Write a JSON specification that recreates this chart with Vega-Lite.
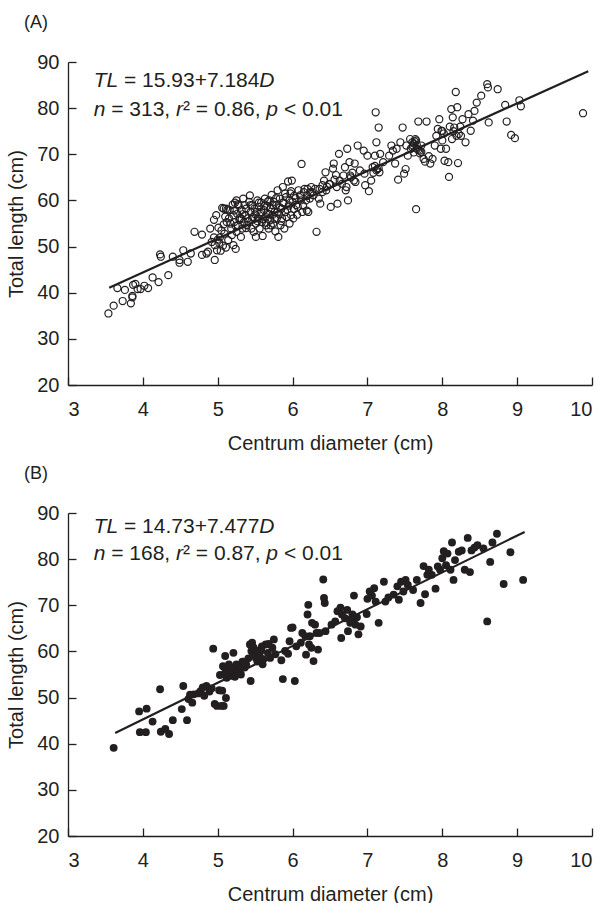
{
  "$schema": "https://vega.github.io/schema/vega-lite/v6.json",
  "padding": {"left": 6, "top": 14, "right": 5, "bottom": 2},
  "spacing": 12,
  "config": {
    "view": {"stroke": null},
    "font": "Liberation Sans",
    "axis": {
      "grid": false,
      "domainColor": "#231f20",
      "domainWidth": 1.3,
      "tickColor": "#231f20",
      "tickWidth": 1.3,
      "tickSize": -8,
      "labelFont": "Liberation Sans",
      "labelFontSize": 20,
      "labelColor": "#231f20",
      "titleFont": "Liberation Sans",
      "titleFontSize": 20,
      "titleFontWeight": "normal",
      "titleColor": "#231f20"
    },
    "axisX": {"labelPadding": 22, "titlePadding": 14},
    "axisY": {"labelPadding": 17, "titlePadding": 10},
    "title": {"font": "Liberation Sans", "fontSize": 18, "fontWeight": "normal", "color": "#231f20", "anchor": "start", "frame": "group", "dx": -44, "offset": 20}
  },
  "datasets": {
    "pa": [
      {"x":3.54,"y":35.5},{"x":3.61,"y":37.2},{"x":3.66,"y":41.0},{"x":3.73,"y":38.2},{"x":3.76,"y":40.6},{"x":3.84,"y":37.7},{"x":3.86,"y":39.0},{"x":3.86,"y":39.3},{"x":3.87,"y":41.7},{"x":3.90,"y":41.9},
      {"x":3.93,"y":40.8},{"x":3.97,"y":40.8},{"x":4.02,"y":41.5},{"x":4.07,"y":41.0},{"x":4.13,"y":43.3},{"x":4.21,"y":42.3},{"x":4.23,"y":48.3},{"x":4.24,"y":47.8},{"x":4.34,"y":43.8},{"x":4.40,"y":47.8},
      {"x":4.49,"y":46.5},{"x":4.49,"y":47.1},{"x":4.54,"y":49.2},{"x":4.60,"y":46.7},{"x":4.64,"y":48.5},{"x":4.69,"y":53.2},{"x":4.79,"y":48.2},{"x":4.79,"y":52.6},{"x":4.85,"y":48.5},{"x":4.87,"y":48.9},
      {"x":4.90,"y":53.9},{"x":4.92,"y":51.0},{"x":4.95,"y":55.8},{"x":4.96,"y":47.1},{"x":4.96,"y":50.3},{"x":4.98,"y":56.8},{"x":4.99,"y":49.2},{"x":5.01,"y":54.1},{"x":5.02,"y":50.8},{"x":5.04,"y":49.1},
      {"x":5.06,"y":58.4},{"x":5.07,"y":50.2},{"x":5.08,"y":58.2},{"x":5.09,"y":52.8},{"x":5.11,"y":58.2},{"x":5.12,"y":55.3},{"x":5.14,"y":51.4},{"x":5.15,"y":56.1},{"x":5.16,"y":57.9},{"x":5.18,"y":53.9},
      {"x":5.20,"y":59.1},{"x":5.21,"y":56.8},{"x":5.21,"y":50.3},{"x":5.22,"y":55.3},{"x":5.23,"y":59.5},{"x":5.24,"y":49.5},{"x":5.25,"y":60.0},{"x":5.25,"y":53.2},{"x":5.26,"y":57.1},{"x":5.27,"y":54.6},
      {"x":5.28,"y":58.9},{"x":5.30,"y":56.2},{"x":5.31,"y":52.1},{"x":5.32,"y":57.9},{"x":5.33,"y":53.9},{"x":5.34,"y":60.4},{"x":5.35,"y":55.3},{"x":5.37,"y":56.8},{"x":5.38,"y":58.2},{"x":5.39,"y":54.6},
      {"x":5.40,"y":56.1},{"x":5.42,"y":59.7},{"x":5.43,"y":61.1},{"x":5.44,"y":57.5},{"x":5.45,"y":53.9},{"x":5.46,"y":58.9},{"x":5.47,"y":56.4},{"x":5.48,"y":53.2},{"x":5.49,"y":58.2},{"x":5.51,"y":55.0},
      {"x":5.51,"y":52.1},{"x":5.52,"y":57.5},{"x":5.53,"y":60.0},{"x":5.54,"y":56.1},{"x":5.55,"y":58.6},{"x":5.56,"y":53.9},{"x":5.57,"y":57.1},{"x":5.58,"y":59.5},{"x":5.59,"y":55.3},{"x":5.60,"y":52.3},
      {"x":5.62,"y":57.9},{"x":5.63,"y":60.4},{"x":5.64,"y":56.4},{"x":5.65,"y":54.6},{"x":5.66,"y":58.8},{"x":5.67,"y":57.1},{"x":5.68,"y":53.9},{"x":5.69,"y":60.0},{"x":5.70,"y":55.7},{"x":5.71,"y":58.2},
      {"x":5.72,"y":61.2},{"x":5.73,"y":56.8},{"x":5.74,"y":55.0},{"x":5.75,"y":59.7},{"x":5.76,"y":57.5},{"x":5.77,"y":53.3},{"x":5.78,"y":58.9},{"x":5.79,"y":56.1},{"x":5.80,"y":62.2},{"x":5.81,"y":52.1},
      {"x":5.82,"y":57.1},{"x":5.83,"y":60.4},{"x":5.84,"y":54.6},{"x":5.85,"y":58.2},{"x":5.86,"y":56.1},{"x":5.87,"y":62.9},{"x":5.88,"y":59.5},{"x":5.89,"y":53.9},{"x":5.90,"y":57.5},{"x":5.91,"y":60.7},
      {"x":5.92,"y":56.4},{"x":5.94,"y":64.1},{"x":5.95,"y":58.9},{"x":5.96,"y":55.0},{"x":5.97,"y":61.5},{"x":5.98,"y":56.8},{"x":5.99,"y":64.3},{"x":6.00,"y":59.7},{"x":6.01,"y":56.1},{"x":6.02,"y":58.1},
      {"x":6.04,"y":60.5},{"x":6.06,"y":56.9},{"x":6.07,"y":58.6},{"x":6.10,"y":61.1},{"x":6.12,"y":67.9},{"x":6.13,"y":57.5},{"x":6.14,"y":58.9},{"x":6.15,"y":61.8},{"x":6.18,"y":60.0},{"x":6.19,"y":57.8},
      {"x":6.20,"y":62.5},{"x":6.21,"y":57.5},{"x":6.23,"y":60.4},{"x":6.24,"y":61.8},{"x":6.25,"y":62.9},{"x":6.28,"y":61.1},{"x":6.32,"y":53.2},{"x":6.35,"y":60.4},{"x":6.37,"y":59.3},{"x":6.40,"y":63.3},
      {"x":6.42,"y":64.3},{"x":6.44,"y":66.1},{"x":6.45,"y":62.2},{"x":6.49,"y":63.6},{"x":6.51,"y":58.6},{"x":6.54,"y":66.9},{"x":6.55,"y":68.0},{"x":6.59,"y":62.9},{"x":6.60,"y":59.3},{"x":6.62,"y":70.1},
      {"x":6.63,"y":64.3},{"x":6.66,"y":63.6},{"x":6.68,"y":65.4},{"x":6.70,"y":67.2},{"x":6.71,"y":62.2},{"x":6.72,"y":62.9},{"x":6.73,"y":71.2},{"x":6.74,"y":60.0},{"x":6.76,"y":68.3},{"x":6.77,"y":65.4},
      {"x":6.82,"y":64.3},{"x":6.83,"y":68.0},{"x":6.87,"y":71.9},{"x":6.95,"y":70.8},{"x":6.96,"y":65.8},{"x":6.97,"y":63.3},{"x":7.00,"y":69.7},{"x":7.02,"y":62.0},{"x":7.05,"y":64.3},{"x":7.07,"y":67.2},
      {"x":7.10,"y":69.7},{"x":7.11,"y":79.1},{"x":7.12,"y":72.6},{"x":7.13,"y":66.8},{"x":7.15,"y":75.8},{"x":7.16,"y":66.1},{"x":7.17,"y":70.1},{"x":7.21,"y":68.3},{"x":7.29,"y":69.7},{"x":7.32,"y":71.9},
      {"x":7.34,"y":70.8},{"x":7.37,"y":68.0},{"x":7.39,"y":71.2},{"x":7.41,"y":64.5},{"x":7.44,"y":72.6},{"x":7.47,"y":75.8},{"x":7.49,"y":65.8},{"x":7.51,"y":66.8},{"x":7.52,"y":71.9},{"x":7.54,"y":69.7},
      {"x":7.57,"y":73.3},{"x":7.58,"y":71.2},{"x":7.60,"y":72.6},{"x":7.61,"y":71.9},{"x":7.62,"y":70.4},{"x":7.64,"y":73.3},{"x":7.65,"y":58.1},{"x":7.66,"y":71.2},{"x":7.68,"y":77.1},{"x":7.70,"y":70.8},
      {"x":7.72,"y":71.9},{"x":7.75,"y":69.0},{"x":7.77,"y":68.4},{"x":7.79,"y":77.1},{"x":7.82,"y":69.6},{"x":7.84,"y":68.0},{"x":7.87,"y":69.0},{"x":7.90,"y":71.9},{"x":7.92,"y":74.0},{"x":7.94,"y":75.5},
      {"x":7.96,"y":77.6},{"x":7.98,"y":71.2},{"x":7.99,"y":75.1},{"x":8.00,"y":73.0},{"x":8.03,"y":68.6},{"x":8.05,"y":71.2},{"x":8.08,"y":68.3},{"x":8.09,"y":65.1},{"x":8.12,"y":79.8},{"x":8.13,"y":73.3},
      {"x":8.14,"y":78.0},{"x":8.16,"y":75.8},{"x":8.18,"y":83.5},{"x":8.19,"y":74.0},{"x":8.20,"y":80.2},{"x":8.21,"y":68.1},{"x":8.22,"y":74.4},{"x":8.27,"y":77.6},{"x":8.31,"y":72.6},{"x":8.35,"y":78.7},
      {"x":8.38,"y":75.1},{"x":8.41,"y":77.3},{"x":8.43,"y":79.4},{"x":8.46,"y":81.2},{"x":8.52,"y":82.7},{"x":8.60,"y":85.2},{"x":8.61,"y":84.5},{"x":8.62,"y":76.9},{"x":8.74,"y":84.1},{"x":8.84,"y":80.7},
      {"x":8.86,"y":77.1},{"x":8.92,"y":74.2},{"x":8.97,"y":73.5},{"x":9.03,"y":81.7},{"x":9.05,"y":80.4},{"x":9.88,"y":78.9},
      {"x":5.05,"y":53.5},{"x":5.10,"y":56.5},{"x":5.13,"y":58.0},{"x":5.17,"y":55.0},{"x":5.22,"y":57.8},{"x":5.27,"y":59.2},{"x":5.29,"y":55.8},{"x":5.33,"y":57.0},{"x":5.36,"y":59.0},{"x":5.38,"y":54.0},
      {"x":5.41,"y":55.5},{"x":5.44,"y":59.0},{"x":5.46,"y":56.0},{"x":5.50,"y":57.0},{"x":5.53,"y":55.5},{"x":5.55,"y":59.5},{"x":5.58,"y":57.5},{"x":5.60,"y":56.0},{"x":5.62,"y":58.8},{"x":5.64,"y":55.2},
      {"x":5.67,"y":59.8},{"x":5.69,"y":57.0},{"x":5.71,"y":54.6},{"x":5.73,"y":59.0},{"x":5.76,"y":56.0},{"x":5.78,"y":60.5},{"x":5.80,"y":57.5},{"x":5.83,"y":58.5},{"x":5.85,"y":55.5},{"x":5.87,"y":59.5},
      {"x":5.90,"y":61.5},{"x":5.93,"y":58.0},{"x":5.96,"y":60.0},{"x":5.98,"y":62.0},{"x":6.02,"y":61.0},{"x":6.05,"y":59.0},{"x":6.08,"y":62.2},{"x":6.11,"y":60.0},{"x":6.16,"y":62.5},{"x":6.20,"y":61.0},
      {"x":6.26,"y":61.8},{"x":6.30,"y":62.5},{"x":4.95,"y":52.0},{"x":5.00,"y":51.5},{"x":5.03,"y":52.0},{"x":5.08,"y":54.8},{"x":5.11,"y":49.8},{"x":5.19,"y":52.5},{"x":5.24,"y":54.5},{"x":5.32,"y":56.0},
      {"x":7.62,"y":72.3},{"x":7.63,"y":72.8},{"x":7.65,"y":73.0},{"x":7.66,"y":72.0},{"x":7.68,"y":71.0},{"x":7.70,"y":70.2},{"x":7.72,"y":70.5},{"x":7.60,"y":71.5},{"x":7.12,"y":66.5},{"x":7.15,"y":67.0},
      {"x":7.10,"y":67.5},{"x":7.08,"y":66.0},{"x":6.78,"y":65.0},{"x":6.80,"y":66.0},{"x":6.84,"y":64.0},{"x":6.90,"y":66.5},{"x":6.36,"y":62.5},{"x":6.40,"y":61.8},{"x":6.46,"y":63.0},{"x":6.50,"y":63.5},
      {"x":6.56,"y":64.5},{"x":6.58,"y":65.5},{"x":8.00,"y":75.0},{"x":8.02,"y":74.5},{"x":8.10,"y":76.0},{"x":8.15,"y":75.0},{"x":8.24,"y":76.0},{"x":8.25,"y":74.0}
    ],
    "pb": [
      {"x":3.61,"y":39.1},{"x":3.95,"y":47.0},{"x":3.96,"y":42.5},{"x":4.04,"y":42.5},{"x":4.05,"y":47.6},{"x":4.13,"y":44.8},{"x":4.23,"y":51.8},{"x":4.24,"y":42.6},{"x":4.30,"y":43.2},{"x":4.35,"y":42.1},
      {"x":4.40,"y":45.1},{"x":4.52,"y":47.5},{"x":4.54,"y":52.5},{"x":4.59,"y":45.1},{"x":4.61,"y":49.7},{"x":4.63,"y":50.6},{"x":4.66,"y":48.9},{"x":4.68,"y":50.7},{"x":4.74,"y":50.9},{"x":4.77,"y":51.4},
      {"x":4.80,"y":52.2},{"x":4.82,"y":50.4},{"x":4.85,"y":52.5},{"x":4.89,"y":51.3},{"x":4.92,"y":52.0},{"x":4.94,"y":60.6},{"x":4.96,"y":48.6},{"x":4.99,"y":48.2},{"x":5.02,"y":51.6},{"x":5.03,"y":54.9},
      {"x":5.05,"y":48.2},{"x":5.06,"y":51.5},{"x":5.07,"y":56.8},{"x":5.08,"y":48.2},{"x":5.10,"y":55.4},{"x":5.10,"y":59.0},{"x":5.11,"y":49.9},{"x":5.12,"y":54.3},{"x":5.14,"y":56.1},{"x":5.15,"y":57.2},
      {"x":5.17,"y":54.7},{"x":5.19,"y":55.8},{"x":5.21,"y":59.7},{"x":5.22,"y":56.5},{"x":5.23,"y":54.5},{"x":5.25,"y":57.2},{"x":5.27,"y":55.8},{"x":5.29,"y":56.6},{"x":5.31,"y":55.0},{"x":5.33,"y":57.8},
      {"x":5.36,"y":56.5},{"x":5.38,"y":57.2},{"x":5.41,"y":58.5},{"x":5.43,"y":61.5},{"x":5.44,"y":53.6},{"x":5.45,"y":60.1},{"x":5.46,"y":61.9},{"x":5.47,"y":59.3},{"x":5.48,"y":60.8},{"x":5.51,"y":58.6},
      {"x":5.53,"y":57.8},{"x":5.54,"y":60.1},{"x":5.56,"y":59.0},{"x":5.59,"y":61.1},{"x":5.60,"y":57.2},{"x":5.61,"y":58.3},{"x":5.64,"y":61.5},{"x":5.67,"y":59.7},{"x":5.68,"y":61.6},{"x":5.70,"y":58.6},
      {"x":5.73,"y":60.8},{"x":5.75,"y":62.6},{"x":5.77,"y":59.4},{"x":5.85,"y":58.1},{"x":5.87,"y":54.0},{"x":5.90,"y":60.1},{"x":5.94,"y":59.5},{"x":5.96,"y":62.2},{"x":5.98,"y":65.1},{"x":6.00,"y":65.2},
      {"x":6.03,"y":53.6},{"x":6.05,"y":61.1},{"x":6.11,"y":61.9},{"x":6.13,"y":64.0},{"x":6.17,"y":63.3},{"x":6.18,"y":59.3},{"x":6.20,"y":68.0},{"x":6.21,"y":70.1},{"x":6.22,"y":61.5},{"x":6.23,"y":63.3},
      {"x":6.25,"y":60.8},{"x":6.26,"y":66.2},{"x":6.28,"y":57.9},{"x":6.30,"y":65.8},{"x":6.32,"y":64.0},{"x":6.34,"y":60.4},{"x":6.36,"y":64.0},{"x":6.41,"y":75.6},{"x":6.42,"y":71.6},{"x":6.43,"y":70.5},
      {"x":6.44,"y":64.4},{"x":6.52,"y":65.8},{"x":6.57,"y":66.5},{"x":6.60,"y":68.7},{"x":6.64,"y":69.5},{"x":6.65,"y":62.9},{"x":6.66,"y":68.0},{"x":6.70,"y":67.2},{"x":6.73,"y":69.0},{"x":6.74,"y":64.4},
      {"x":6.77,"y":66.2},{"x":6.79,"y":66.9},{"x":6.80,"y":68.0},{"x":6.82,"y":72.1},{"x":6.84,"y":65.8},{"x":6.86,"y":67.4},{"x":6.88,"y":63.7},{"x":6.91,"y":65.4},{"x":6.99,"y":68.1},{"x":7.00,"y":71.4},
      {"x":7.03,"y":73.0},{"x":7.06,"y":72.1},{"x":7.09,"y":73.7},{"x":7.11,"y":70.8},{"x":7.15,"y":66.2},{"x":7.22,"y":75.1},{"x":7.24,"y":70.8},{"x":7.28,"y":71.7},{"x":7.35,"y":72.3},{"x":7.40,"y":74.1},
      {"x":7.42,"y":71.2},{"x":7.45,"y":75.1},{"x":7.48,"y":73.0},{"x":7.51,"y":75.5},{"x":7.54,"y":74.4},{"x":7.61,"y":73.3},{"x":7.66,"y":75.5},{"x":7.71,"y":70.5},{"x":7.75,"y":78.5},{"x":7.77,"y":72.4},
      {"x":7.80,"y":76.6},{"x":7.82,"y":77.7},{"x":7.86,"y":76.6},{"x":7.91,"y":73.6},{"x":7.94,"y":78.4},{"x":7.97,"y":77.7},{"x":8.00,"y":80.2},{"x":8.02,"y":81.7},{"x":8.05,"y":78.7},{"x":8.07,"y":81.2},
      {"x":8.11,"y":77.7},{"x":8.13,"y":83.6},{"x":8.15,"y":75.5},{"x":8.17,"y":79.8},{"x":8.22,"y":81.6},{"x":8.26,"y":81.9},{"x":8.30,"y":77.7},{"x":8.34,"y":84.6},{"x":8.37,"y":77.2},{"x":8.39,"y":81.9},
      {"x":8.43,"y":82.5},{"x":8.47,"y":83.0},{"x":8.55,"y":82.3},{"x":8.60,"y":66.5},{"x":8.64,"y":79.4},{"x":8.67,"y":83.6},{"x":8.73,"y":85.5},{"x":8.82,"y":74.6},{"x":8.91,"y":81.5},{"x":9.08,"y":75.5},
      {"x":5.58,"y":60.2},{"x":5.35,"y":57.8},{"x":6.78,"y":67.0}
    ],
    "la": [{"x":3.55,"y":41.1},{"x":9.95,"y":88.0}],
    "lb": [{"x":3.63,"y":42.3},{"x":9.10,"y":85.9}],
    "ta": [
      {"x":3.343,"y":85.8,"t":"TL","s":"i"},{"x":3.748,"y":85.8,"t":"= 15.93+7.184","s":"n"},{"x":5.556,"y":85.8,"t":"D","s":"i"},
      {"x":3.343,"y":79.6,"t":"n","s":"i"},{"x":3.577,"y":79.6,"t":"= 313,","s":"n"},{"x":4.442,"y":79.6,"t":"r","s":"i"},{"x":4.536,"y":79.6,"t":"² = 0.86,","s":"n"},{"x":5.650,"y":79.6,"t":"p","s":"i"},{"x":5.884,"y":79.6,"t":"< 0.01","s":"n"}
    ],
    "tb": [
      {"x":3.343,"y":86.9,"t":"TL","s":"i"},{"x":3.748,"y":86.9,"t":"= 14.73+7.477","s":"n"},{"x":5.556,"y":86.9,"t":"D","s":"i"},
      {"x":3.343,"y":81.1,"t":"n","s":"i"},{"x":3.577,"y":81.1,"t":"= 168,","s":"n"},{"x":4.442,"y":81.1,"t":"r","s":"i"},{"x":4.536,"y":81.1,"t":"² = 0.87,","s":"n"},{"x":5.650,"y":81.1,"t":"p","s":"i"},{"x":5.884,"y":81.1,"t":"< 0.01","s":"n"}
    ]
  },
  "vconcat": [
    {
      "title": {"text": "(A)"},
      "width": 524,
      "height": 323,
      "encoding": {
        "x": {"field": "x", "type": "quantitative", "scale": {"domain": [3, 10], "nice": false, "zero": false}, "axis": {"title": "Centrum diameter (cm)", "values": [3,4,5,6,7,8,9,10]}},
        "y": {"field": "y", "type": "quantitative", "scale": {"domain": [20, 90], "nice": false, "zero": false}, "axis": {"title": "Total length (cm)", "values": [20,30,40,50,60,70,80,90]}}
      },
      "layer": [
        {"data": {"name": "pa"}, "mark": {"type": "point", "shape": "circle", "filled": false, "stroke": "#231f20", "strokeWidth": 1.2, "size": 50, "opacity": 1}},
        {"data": {"name": "la"}, "mark": {"type": "line", "color": "#231f20", "strokeWidth": 2.2}},
        {"data": {"name": "ta"}, "transform": [{"filter": "datum.s === 'i'"}], "mark": {"type": "text", "align": "left", "baseline": "middle", "fontSize": 21, "fontStyle": "italic", "color": "#231f20"}, "encoding": {"text": {"field": "t"}}},
        {"data": {"name": "ta"}, "transform": [{"filter": "datum.s === 'n'"}], "mark": {"type": "text", "align": "left", "baseline": "middle", "fontSize": 21, "color": "#231f20"}, "encoding": {"text": {"field": "t"}}}
      ]
    },
    {
      "title": {"text": "(B)"},
      "width": 524,
      "height": 323,
      "encoding": {
        "x": {"field": "x", "type": "quantitative", "scale": {"domain": [3, 10], "nice": false, "zero": false}, "axis": {"title": "Centrum diameter (cm)", "values": [3,4,5,6,7,8,9,10]}},
        "y": {"field": "y", "type": "quantitative", "scale": {"domain": [20, 90], "nice": false, "zero": false}, "axis": {"title": "Total length (cm)", "values": [20,30,40,50,60,70,80,90]}}
      },
      "layer": [
        {"data": {"name": "pb"}, "mark": {"type": "circle", "color": "#231f20", "size": 62, "opacity": 1}},
        {"data": {"name": "lb"}, "mark": {"type": "line", "color": "#231f20", "strokeWidth": 2.2}},
        {"data": {"name": "tb"}, "transform": [{"filter": "datum.s === 'i'"}], "mark": {"type": "text", "align": "left", "baseline": "middle", "fontSize": 21, "fontStyle": "italic", "color": "#231f20"}, "encoding": {"text": {"field": "t"}}},
        {"data": {"name": "tb"}, "transform": [{"filter": "datum.s === 'n'"}], "mark": {"type": "text", "align": "left", "baseline": "middle", "fontSize": 21, "color": "#231f20"}, "encoding": {"text": {"field": "t"}}}
      ]
    }
  ]
}
